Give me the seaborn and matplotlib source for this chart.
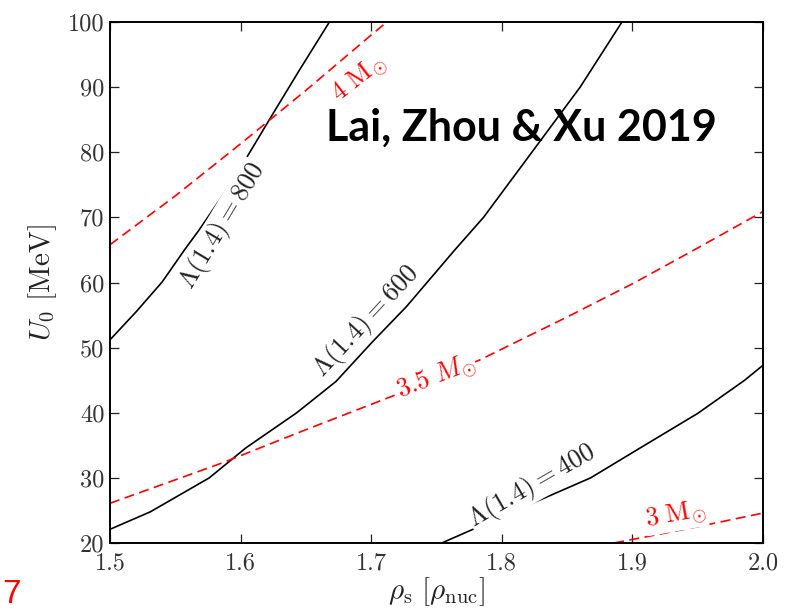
import numpy as np
import pandas as pd
import matplotlib
matplotlib.use("Agg")
import matplotlib.pyplot as plt
import seaborn as sns

# ---- data ----
rho_L800 = [1.500, 1.520, 1.540, 1.557, 1.568, 1.585, 1.602, 1.622, 1.645, 1.668]
U_L800   = [51.2, 55.5, 60.1, 65.0, 68.0, 73.0, 78.3, 85.0, 92.6, 100.0]

rho_L600 = [1.500, 1.531, 1.576, 1.604, 1.643, 1.673, 1.701, 1.727, 1.764, 1.786, 1.823, 1.860, 1.892]
U_L600   = [22.1, 24.8, 30.0, 34.6, 40.0, 44.8, 50.9, 56.3, 65.0, 70.0, 80.0, 90.0, 100.0]

rho_L400 = [1.754, 1.812, 1.868, 1.906, 1.950, 1.986, 2.000]
U_L400   = [20.0, 25.1, 30.0, 34.6, 39.9, 45.0, 47.3]

rho_M4 = [1.500, 1.550, 1.600, 1.650, 1.700, 1.712]
U_M4   = [65.8, 73.3, 81.3, 89.5, 98.0, 100.0]

rho_M35 = [1.500, 1.550, 1.586, 1.650, 1.722, 1.783, 1.850, 1.901, 1.950, 2.000]
U_M35   = [26.1, 29.7, 32.3, 37.4, 43.0, 48.1, 54.7, 59.9, 65.3, 70.9]

rho_M3 = [1.886, 1.950, 2.000]
U_M3   = [20.0, 22.5, 24.6]

x_ticks = [1.5, 1.6, 1.7, 1.8, 1.9, 2.0]
y_ticks = [20, 30, 40, 50, 60, 70, 80, 90, 100]

sns.set_theme(style="ticks")
plt.rcParams['font.family'] = ['cmr10', 'DejaVu Sans']
plt.rcParams['mathtext.fontset'] = 'cm'
plt.rcParams['axes.unicode_minus'] = False

fig = plt.figure(figsize=(7.9, 6.12), dpi=100)
W, H = 790, 612
ax = fig.add_axes([110 / W, (H - 543) / H, (763 - 110) / W, (543 - 22) / H])

black_kw = dict(color='black', lw=1.2, estimator=None, sort=False, ax=ax, legend=False)
red_kw = dict(color='red', lw=1.2, estimator=None, sort=False, ax=ax, legend=False)

for xs, ys in [(rho_L800, U_L800), (rho_L600, U_L600), (rho_L400, U_L400)]:
    sns.lineplot(x=xs, y=ys, **black_kw)
for xs, ys in [(rho_M4, U_M4), (rho_M35, U_M35), (rho_M3, U_M3)]:
    sns.lineplot(x=xs, y=ys, **red_kw)
for line in ax.lines[3:]:
    line.set_dashes((6, 3.3))

ax.set_xlim(1.5, 2.0)
ax.set_ylim(20, 100)
ax.set_xticks(x_ticks)
ax.set_yticks(y_ticks)
ax.set_xticklabels([f"{v:.1f}" for v in x_ticks])
ax.set_yticklabels([f"{v}" for v in y_ticks])
ax.tick_params(direction='in', top=True, right=True, length=6.5, width=0.9,
               labelsize=17.5, colors='#222222', labelcolor='#333333')
ax.tick_params(axis='x', pad=7)
ax.tick_params(axis='y', pad=4)
for s in ax.spines.values():
    s.set_linewidth(1.4)
    s.set_color('black')

ax.set_xlabel(r'$\rho_{\rm s}\ [\rho_{\rm nuc}]$', fontsize=21, color='#222222', labelpad=0)
ax.set_ylabel(r'$U_0\ [\rm MeV]$', fontsize=21, color='#222222', labelpad=6)

bbox = dict(fc='white', ec='none', pad=0.5)
def px(xp, yp):
    return ((xp - 110) / (763 - 110) * 0.5 + 1.5, 100 - (yp - 22) / (543 - 22) * 80)

lab_kw = dict(ha='center', va='center', fontsize=19, rotation_mode='anchor', bbox=bbox)
ax.text(*px(222, 226), r'$\Lambda(1.4) = 800$', rotation=59, color='#222222', **lab_kw)
ax.text(*px(366, 321), r'$\Lambda(1.4) = 600$', rotation=47, color='#222222', **lab_kw)
ax.text(*px(532, 486), r'$\Lambda(1.4) = 400$', rotation=30, color='#222222', **lab_kw)
ax.text(*px(359, 79), r'$4\ \mathrm{M}_{\odot}$', rotation=38, color='red', **lab_kw)
ax.text(*px(436, 377), r'$3.5\ M_{\odot}$', rotation=21, color='red', **lab_kw)
ax.text(*px(676, 516), r'$3\ \mathrm{M}_{\odot}$', rotation=10, color='red', **lab_kw)

fig.text(521 / W, 1 - 128 / H, 'Lai, Zhou & Xu 2019', ha='center', va='center',
         fontsize=31, fontweight='bold', family='Lato', color='black')
fig.text(2 / W, 1 - 603 / H, '7', ha='left', va='baseline', fontsize=24,
         family='Liberation Sans', color='red')

fig.savefig('out.png', dpi=100)
